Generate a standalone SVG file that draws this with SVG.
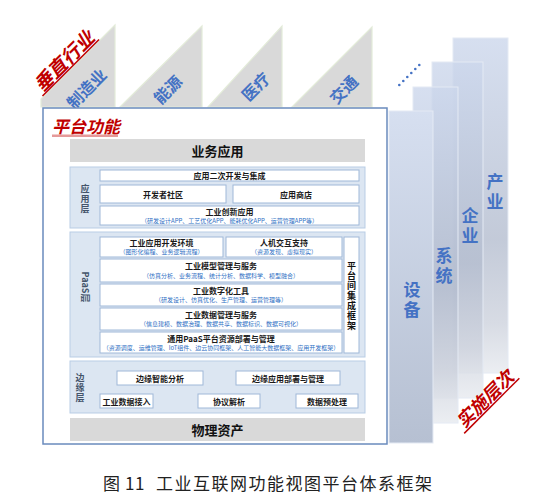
<svg xmlns="http://www.w3.org/2000/svg" width="547" height="502" viewBox="0 0 547 502">
<defs>
 <linearGradient id="gBar" x1="0" y1="0" x2="0" y2="1">
  <stop offset="0" stop-color="#ccd7ec"/>
  <stop offset="0.6" stop-color="#b4bdcf"/>
  <stop offset="0.85" stop-color="#cdd2dd"/>
  <stop offset="1" stop-color="#e7eaef"/>
 </linearGradient>
 <linearGradient id="gBar1" x1="0" y1="0" x2="0" y2="1">
  <stop offset="0" stop-color="#d6dff0"/>
  <stop offset="1" stop-color="#b6c0d2"/>
 </linearGradient>
</defs>
<style>
 text { font-family: "Noto Sans CJK SC", "Liberation Sans", sans-serif; }
 .tri { fill:#d9d9d9; stroke:#e3ebd9; stroke-width:1.2; }
 .tl { font-size:16px; font-weight:bold; fill:#4472c4; text-anchor:middle; dominant-baseline:central; }
 .red { font-weight:bold; font-style:italic; fill:#c00000; }
 .bar { fill:url(#gBar); fill-opacity:0.8; stroke:#e4eaf4; stroke-width:1; }
 .bl { font-size:17px; font-weight:bold; fill:#4472c4; text-anchor:middle; writing-mode:vertical-rl; letter-spacing:3px; }
 .layer { fill:#dce6f2; stroke:#b9cde5; stroke-width:1; }
 .box { fill:#fff; stroke:#9fb8d8; stroke-width:1; }
 .band { fill:#d9d9d9; }
 .bt { font-size:13px; font-weight:bold; fill:#111; text-anchor:middle; dominant-baseline:central; }
 .h { font-size:8px; font-weight:bold; fill:#1a1a1a; text-anchor:middle; dominant-baseline:central; }
 .s { font-size:6px; fill:#2e6fc4; text-anchor:middle; dominant-baseline:central; }
 .lab { font-size:9px; font-weight:bold; fill:#44546a; text-anchor:middle; }
 .vl { writing-mode:vertical-rl; letter-spacing:1px; }
 .v { font-size:9px; font-weight:bold; fill:#111; text-anchor:middle; writing-mode:vertical-rl; letter-spacing:1px; }
</style>

<!-- vertical industries -->
<g id="industries">
 <polygon class="tri" points="41,107 41,99 115,25 115,107"/>
 <polygon class="tri" points="120,107 202,26 202,107"/>
 <polygon class="tri" points="208,107 282,26 282,107"/>
 <polygon class="tri" points="292,107 372,27 372,107"/>
 <text class="tl" transform="translate(86,88) rotate(-45)">制造业</text>
 <text class="tl" transform="translate(167,89) rotate(-45)">能源</text>
 <text class="tl" transform="translate(255,86) rotate(-45)">医疗</text>
 <text class="tl" transform="translate(343,89) rotate(-45)">交通</text>
 <g transform="translate(63,60) rotate(-45)">
  <text class="red" x="0" y="0" font-size="19" text-anchor="middle" dominant-baseline="central">垂直行业</text>
  <line x1="-40" y1="11" x2="40" y2="11" stroke="#c00000" stroke-width="1.5"/>
 </g>
</g>

<!-- implementation levels -->
<g id="levels">
 <rect class="bar" x="453" y="38" width="55" height="335"/>
 <rect class="bar" x="432" y="62" width="51" height="336"/>
 <rect class="bar" x="413" y="87" width="45" height="336"/>
 <rect x="389" y="111" width="44" height="332" fill="url(#gBar1)" stroke="#e4eaf4" stroke-width="1"/>
 <text class="bl" x="495" y="193.5">产业</text>
 <text class="bl" x="470" y="227.5">企业</text>
 <text class="bl" x="444" y="267.5">系统</text>
 <text class="bl" x="412" y="301.5">设备</text>
 <g fill="#4472c4">
  <circle cx="399.3" cy="85" r="1.3"/>
  <circle cx="403.3" cy="81" r="1.3"/>
  <circle cx="407.3" cy="77" r="1.3"/>
  <circle cx="411.3" cy="73" r="1.3"/>
  <circle cx="415.3" cy="69" r="1.3"/>
  <circle cx="419.3" cy="65" r="1.3"/>
 </g>
 <g transform="translate(484,398) rotate(-45)">
  <text class="red" x="0" y="0" font-size="18" text-anchor="middle" dominant-baseline="central">实施层次</text>
  <line x1="-39" y1="11" x2="39" y2="11" stroke="#c00000" stroke-width="1.5"/>
 </g>
</g>

<!-- platform functions -->
<g id="platform">
 <rect x="43" y="108" width="344" height="336" fill="#fff" stroke="#6a8bbd" stroke-width="1.5"/>
 <text class="red" x="52" y="133" font-size="17">平台功能</text>
 <rect x="52" y="134.5" width="66" height="2.5" fill="#e59a9a"/>
</g>

<g id="business">
 <rect class="band" x="70" y="139" width="295" height="23"/>
 <text class="bt" x="217.5" y="150.5">业务应用</text>
</g>

<g id="app-layer">
 <rect class="layer" x="70" y="167" width="295" height="61"/>
 <text class="lab vl" x="85" y="199.5">应用层</text>
 <rect class="box" x="100" y="170" width="259" height="11"/>
 <text class="h" x="229.5" y="175.5">应用二次开发与集成</text>
 <rect class="box" x="100" y="185" width="126" height="18"/>
 <text class="h" x="163" y="194">开发者社区</text>
 <rect class="box" x="233" y="185" width="126" height="18"/>
 <text class="h" x="296" y="194">应用商店</text>
 <rect class="box" x="100" y="206" width="259" height="19"/>
 <text class="h" x="229.5" y="211.5">工业创新应用</text>
 <text class="s" x="229.5" y="220" font-size="5">（研发设计APP、工艺优化APP、能耗优化APP、运营管理APP等）</text>
</g>

<g id="paas-layer">
 <rect class="layer" x="70" y="232" width="295" height="125"/>
 <text class="lab" dominant-baseline="central" transform="translate(85,287) rotate(90)">PaaS层</text>
 <rect class="box" x="100" y="237" width="123" height="20"/>
 <text class="h" x="161.5" y="242.5">工业应用开发环境</text>
 <text class="s" x="161.5" y="251.7">（图形化编程、业务逻辑流程）</text>
 <rect class="box" x="226" y="237" width="116" height="20"/>
 <text class="h" x="284" y="242.5">人机交互支持</text>
 <text class="s" x="284" y="251.7">（资源发现、虚拟现实）</text>
 <rect class="box" x="100" y="259" width="242" height="23"/>
 <text class="h" x="221" y="265.7">工业模型管理与服务</text>
 <text class="s" x="221" y="275">（仿真分析、业务流程、统计分析、数据科学、模型融合）</text>
 <rect class="box" x="100" y="284" width="242" height="22"/>
 <text class="h" x="221" y="290">工业数字化工具</text>
 <text class="s" x="221" y="299">（研发设计、仿真优化、生产管理、运营管理等）</text>
 <rect class="box" x="100" y="308" width="242" height="22"/>
 <text class="h" x="221" y="314.3">工业数据管理与服务</text>
 <text class="s" x="221" y="323.7">（信息建模、数据治理、数据共享、数据标识、数据可视化）</text>
 <rect class="box" x="100" y="332" width="242" height="21"/>
 <text class="h" x="221" y="338.3">通用PaaS平台资源部署与管理</text>
 <text class="s" x="221" y="347.7">（资源调度、运维管理、IoT组件、边云协同框架、人工智能大数据框架、应用开发框架）</text>
 <rect class="box" x="344" y="237" width="15" height="116"/>
 <text class="v" x="351.5" y="296.5">平台间集成框架</text>
</g>

<g id="edge-layer">
 <rect class="layer" x="70" y="361" width="295" height="52"/>
 <text class="lab vl" x="80" y="388.5">边缘层</text>
 <rect class="box" x="117" y="371" width="86" height="14"/>
 <text class="h" x="160" y="378">边缘智能分析</text>
 <rect class="box" x="236" y="371" width="104" height="14"/>
 <text class="h" x="288" y="378">边缘应用部署与管理</text>
 <rect class="box" x="100" y="394" width="53" height="14"/>
 <text class="h" x="126.5" y="401">工业数据接入</text>
 <rect class="box" x="198" y="394" width="62" height="14"/>
 <text class="h" x="229" y="401">协议解析</text>
 <rect class="box" x="296" y="394" width="62" height="14"/>
 <text class="h" x="327" y="401">数据预处理</text>
</g>

<g id="physical">
 <rect class="band" x="70" y="418" width="295" height="23"/>
 <text class="bt" x="217.5" y="429.5">物理资产</text>
</g>

<g id="connectors"></g>

<text y="482" font-size="17" fill="#222" dominant-baseline="central" letter-spacing="1.5"><tspan x="103">图</tspan><tspan x="125" letter-spacing="0.5">11</tspan><tspan x="156">工业互联网功能视图平台体系框架</tspan></text>
</svg>
